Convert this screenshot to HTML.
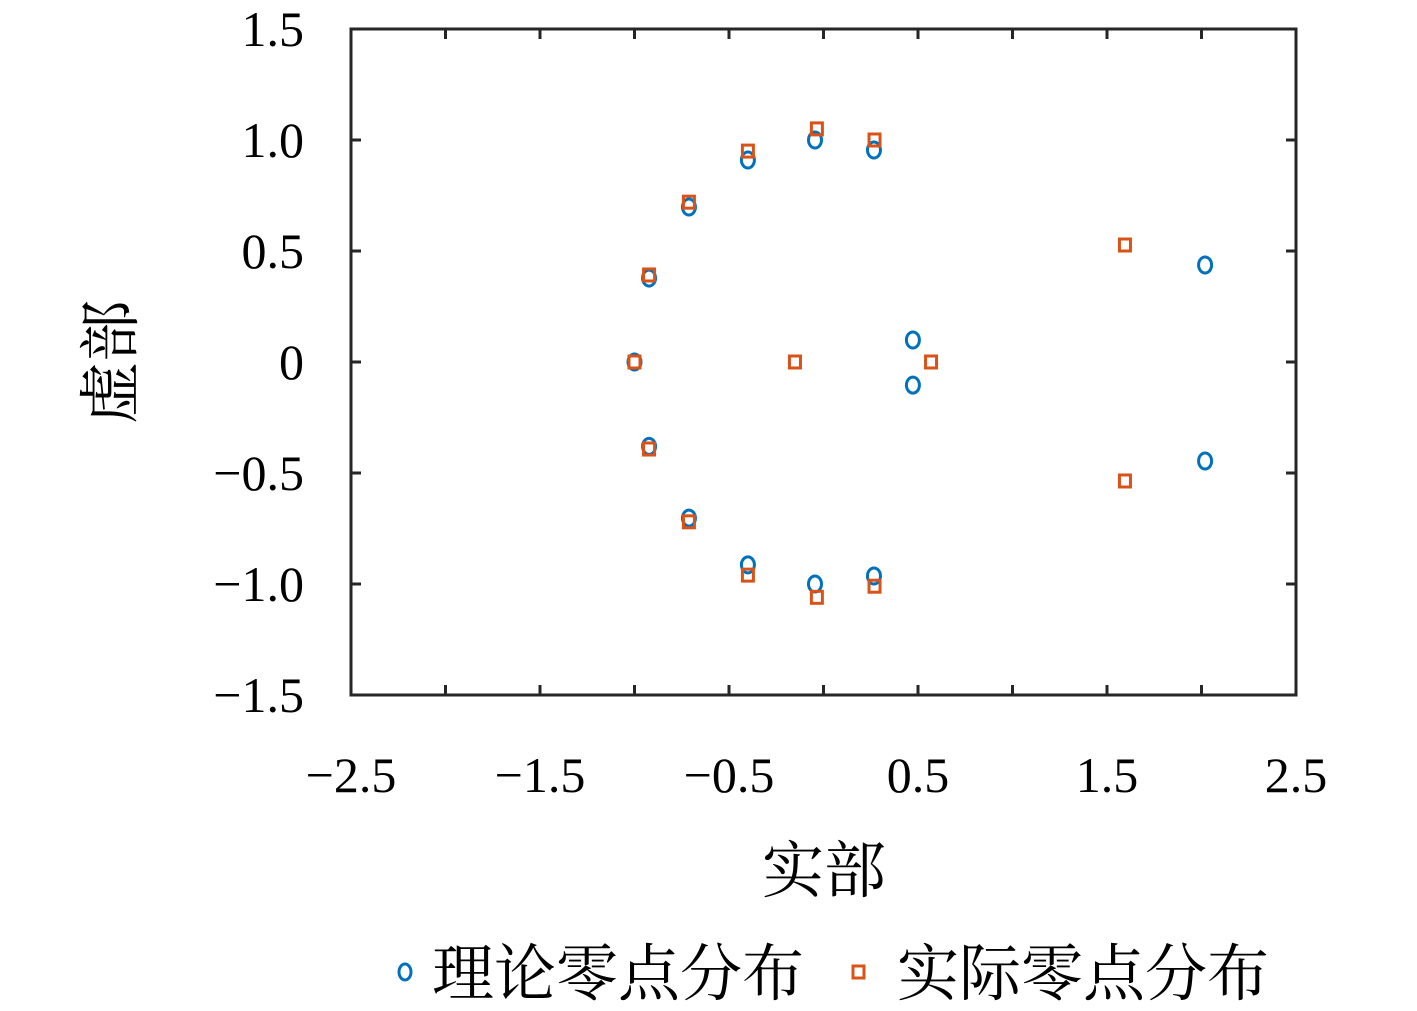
<!DOCTYPE html>
<html><head><meta charset="utf-8">
<style>
html,body{margin:0;padding:0;background:#fff;}
svg{display:block;}
</style></head>
<body>
<svg id="chart" width="1417" height="1011" viewBox="0 0 1417 1011" xmlns="http://www.w3.org/2000/svg">
  <g id="ticks"></g>
  <rect x="351" y="29" width="945" height="666" fill="none" stroke="#262626" stroke-width="3"/>
  <g id="xlabels" font-family="Liberation Serif, serif" font-size="50" fill="#000" text-anchor="middle"></g>
  <g id="ylabels" font-family="Liberation Serif, serif" font-size="50" fill="#000" text-anchor="end"></g>
  <g id="marks"></g>
  <text x="824" y="892" text-anchor="middle" font-family="Liberation Serif, 'Noto Serif CJK SC', serif" font-size="62">实部</text>
  <text transform="translate(132,362) rotate(-90)" text-anchor="middle" font-family="Liberation Serif, 'Noto Serif CJK SC', serif" font-size="62">虚部</text>
  <g>
    <ellipse cx="405" cy="972" rx="6" ry="8" fill="none" stroke="#0072BD" stroke-width="3"/>
    <text x="432" y="995" font-family="Liberation Serif, 'Noto Serif CJK SC', serif" font-size="62">理论零点分布</text>
    <rect x="853" y="966" width="11" height="12" fill="none" stroke="#D95319" stroke-width="3"/>
    <text x="897" y="995" font-family="Liberation Serif, 'Noto Serif CJK SC', serif" font-size="62">实际零点分布</text>
  </g>
</svg>
<script>
const xTicks = [-2.5, -2, -1.5, -1, -0.5, 0, 0.5, 1, 1.5, 2, 2.5];
const xTickLabels = ["\u22122.5", "\u22121.5", "\u22120.5", "0.5", "1.5", "2.5"];
const xTickLabelVals = [-2.5, -1.5, -0.5, 0.5, 1.5, 2.5];
const yTicks = [-1.5, -1, -0.5, 0, 0.5, 1, 1.5];
const yTickLabels = ["\u22121.5", "\u22121.0", "\u22120.5", "0", "0.5", "1.0", "1.5"];
const theoryRe = [-1, -0.923, -0.923, -0.712, -0.712, -0.40, -0.40, -0.045, -0.045, 0.267, 0.267, 0.473, 0.473, 2.019, 2.019];
const theoryIm = [0, 0.378, -0.38, 0.698, -0.703, 0.91, -0.914, 1.0, -1.0, 0.955, -0.964, 0.099, -0.104, 0.437, -0.446];
const actualRe = [-1, -0.923, -0.923, -0.712, -0.712, -0.40, -0.40, -0.035, -0.035, 0.27, 0.27, -0.151, 0.569, 1.595, 1.595];
const actualIm = [0, 0.392, -0.392, 0.72, -0.72, 0.95, -0.96, 1.05, -1.06, 1.0, -1.01, 0, 0, 0.527, -0.536];

const X0 = 351, X1 = 1296, Y0 = 695, Y1 = 29;
const xMin = -2.5, xMax = 2.5, yMin = -1.5, yMax = 1.5;
function sx(v){ return X0 + (v - xMin) / (xMax - xMin) * (X1 - X0); }
function sy(v){ return Y0 - (v - yMin) / (yMax - yMin) * (Y0 - Y1); }
const NS = "http://www.w3.org/2000/svg";
function mk(tag, attrs, parent){
  const e = document.createElementNS(NS, tag);
  for (const k in attrs) e.setAttribute(k, attrs[k]);
  parent.appendChild(e);
  return e;
}
const ticks = document.getElementById('ticks');
xTicks.forEach(v => {
  const x = sx(v);
  const t1 = mk('line', {x1:x, x2:x, y1:Y0, y2:Y0-10, stroke:'#262626', 'stroke-width':3}, ticks);
  
  
  const t2 = mk('line', {x1:x, x2:x, y1:Y1, y2:Y1+10, stroke:'#262626', 'stroke-width':3}, ticks);
  
  
});
yTicks.forEach(v => {
  const y = sy(v);
  const t1 = mk('line', {x1:X0, x2:X0+10, y1:y, y2:y, stroke:'#262626', 'stroke-width':3}, ticks);
  
  
  const t2 = mk('line', {x1:X1, x2:X1-10, y1:y, y2:y, stroke:'#262626', 'stroke-width':3}, ticks);
  
  
});
const xl = document.getElementById('xlabels');
xTickLabelVals.forEach((v, i) => {
  const t = mk('text', {x:sx(v), y:792}, xl);
  t.textContent = xTickLabels[i];
  
  
});
const yl = document.getElementById('ylabels');
yTicks.forEach((v, i) => {
  const t = mk('text', {x:304, y:sy(v)+17}, yl);
  t.textContent = yTickLabels[i];
  
  
});
const marks = document.getElementById('marks');
theoryRe.forEach((r, i) => {
  const c = mk('ellipse', {cx:sx(r), cy:sy(theoryIm[i]), rx:6.5, ry:8, fill:'none', stroke:'#0072BD', 'stroke-width':3}, marks);
  
  
});
actualRe.forEach((r, i) => {
  const s = mk('rect', {x:sx(r)-5.5, y:sy(actualIm[i])-6, width:11, height:12, fill:'none', stroke:'#D95319', 'stroke-width':3}, marks);
  
  
});
</script>
</body></html>
